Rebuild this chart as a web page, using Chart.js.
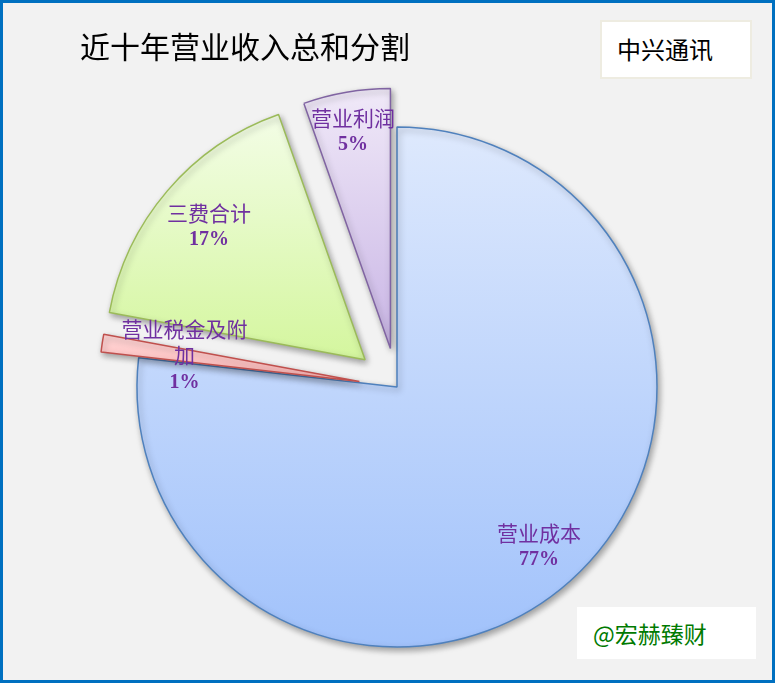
<!DOCTYPE html>
<html lang="zh">
<head>
<meta charset="UTF-8">
<title>近十年营业收入总和分割</title>
<script src="https://cdn.jsdelivr.net/npm/chart.js"></script>
<style>
    html, body { margin: 0; padding: 0; }
    body {
        width: 775px;
        height: 683px;
        position: relative;
        overflow: hidden;
        background: #f2f2f2;
        font-family: "Noto Sans CJK SC", sans-serif;
    }
    #chart { position: absolute; left: 0; top: 0; }
    .frame {
        position: absolute;
        left: 0; top: 0; right: 0; bottom: 0;
        border: 3px solid #0070c0;
        pointer-events: none;
    }
    .title {
        position: absolute;
        left: 80px;
        top: 25px;
        font-size: 30px;
        line-height: 40px;
        color: #000;
    }
    .tag {
        position: absolute;
        left: 600px;
        top: 20px;
        width: 152px;
        height: 59px;
        box-sizing: border-box;
        background: #fff;
        border: 2px solid #eeece1;
        padding-left: 15px;
        font-size: 24px;
        line-height: 54px;
        color: #000;
    }
    .sign {
        position: absolute;
        left: 577px;
        top: 607px;
        width: 179px;
        height: 52px;
        box-sizing: border-box;
        background: #fff;
        padding-left: 16px;
        font-size: 23px;
        line-height: 52px;
        color: #007a00;
    }
</style>
</head>
<body>
<canvas id="chart" width="775" height="683"></canvas>
<div class="title">近十年营业收入总和分割</div>
<div class="tag">中兴通讯</div>
<div class="sign">@宏赫臻财</div>
<div class="frame"></div>

<script>
// data (share of ten-year revenue, %)
const categories = ['营业成本', '营业税金及附加', '三费合计', '营业利润'];
const shares = [76.8, 1.1, 16.7, 5.4];

// styles
const gradientStops = [
    ['#dee9fd', '#a1c2fb'],
    ['#ffd6d6', '#ffb8b8'],
    ['#f3fde6', '#d4f69e'],
    ['#f0e9f8', '#c9b5e5']
];
const borderColors = ['#4f81bd', '#c0504d', '#9bbb59', '#8064a2'];
const explode = [0, 38, 42, 39];
const labelRadius = [0.82, 0.68, 0.79, 0.85];
const PIE_RADIUS = 260;

function sliceBounds(arc) {
    // vertical extent of a wedge so the gradient runs over the slice only
    const ys = [arc.y,
        arc.y + Math.sin(arc.startAngle) * arc.outerRadius,
        arc.y + Math.sin(arc.endAngle) * arc.outerRadius];
    [-Math.PI / 2, Math.PI / 2, 1.5 * Math.PI].forEach(a => {
        if (a >= arc.startAngle && a <= arc.endAngle) ys.push(arc.y + Math.sin(a) * arc.outerRadius);
    });
    return [Math.min(...ys), Math.max(...ys)];
}

const explodePlugin = {
    id: 'explode',
    afterDatasetUpdate(chart, args) {
        const ctx = chart.ctx;
        args.meta.data.forEach((arc, i) => {
            const mid = (arc.startAngle + arc.endAngle) / 2;
            arc.x += Math.cos(mid) * explode[i];
            arc.y += Math.sin(mid) * explode[i];
            const [top, bottom] = sliceBounds(arc);
            const g = ctx.createLinearGradient(0, top, 0, bottom);
            g.addColorStop(0, gradientStops[i][0]);
            g.addColorStop(1, gradientStops[i][1]);
            arc.options = Object.assign({}, arc.options, { backgroundColor: g });
        });
    },
    beforeDatasetsDraw(chart) {
        const ctx = chart.ctx;
        ctx.save();
        ctx.shadowColor = 'rgba(0, 0, 0, 0.35)';
        ctx.shadowBlur = 6;
        ctx.shadowOffsetX = 2;
        ctx.shadowOffsetY = 3;
    },
    afterDatasetsDraw(chart) {
        chart.ctx.restore();
    }
};

function wrapText(ctx, text, maxWidth) {
    const lines = [];
    let line = '';
    for (const ch of text) {
        if (line && ctx.measureText(line + ch).width > maxWidth) {
            lines.push(line);
            line = ch;
        } else {
            line += ch;
        }
    }
    if (line) lines.push(line);
    return lines;
}

const labelPlugin = {
    id: 'sliceLabels',
    afterDatasetsDraw(chart) {
        const ctx = chart.ctx;
        const meta = chart.getDatasetMeta(0);
        const total = shares.reduce((a, b) => a + b, 0);
        const nameFont = '21px "Noto Sans CJK SC"';
        const pctFont = 'bold 20px "Liberation Serif"';
        ctx.save();
        ctx.fillStyle = '#7030a0';
        ctx.textAlign = 'center';
        ctx.textBaseline = 'middle';
        meta.data.forEach((arc, i) => {
            const mid = (arc.startAngle + arc.endAngle) / 2;
            const r = arc.outerRadius * labelRadius[i];
            const cx = arc.x + Math.cos(mid) * r;
            const cy = arc.y + Math.sin(mid) * r;
            ctx.font = nameFont;
            const lines = wrapText(ctx, categories[i], 130);
            const pct = Math.round(shares[i] / total * 100) + '%';
            const n = lines.length + 1;
            let y = cy - (n - 1) * 13;
            lines.forEach(l => {
                ctx.font = nameFont;
                ctx.fillText(l, cx, y);
                y += 26;
            });
            ctx.font = pctFont;
            ctx.fillText(pct, cx, y + 1);
        });
        ctx.restore();
    }
};

new Chart(document.getElementById('chart'), {
    type: 'pie',
    data: {
        labels: categories,
        datasets: [{
            data: shares,
            backgroundColor: gradientStops.map(s => s[1]),
            borderColor: borderColors,
            borderWidth: 1.5
        }]
    },
    options: {
        responsive: false,
        animation: false,
        radius: PIE_RADIUS,
        layout: {
            padding: { left: 19, top: 91, right: 0, bottom: 0 }
        },
        plugins: {
            legend: { display: false },
            tooltip: { enabled: false }
        }
    },
    plugins: [explodePlugin, labelPlugin]
});
</script>
</body>
</html>
